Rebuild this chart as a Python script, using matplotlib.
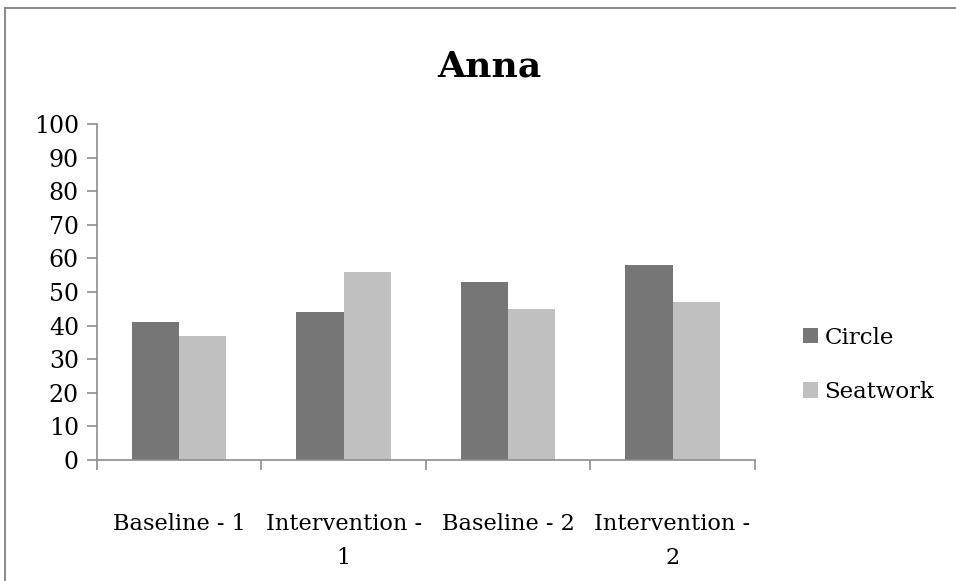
import numpy as np
import matplotlib.pyplot as plt
from matplotlib.patches import Rectangle

# Data
categories = ['Baseline - 1', 'Intervention -\n1', 'Baseline - 2', 'Intervention -\n2']
circle = [41, 44, 53, 58]
seatwork = [37, 56, 45, 47]

plt.rcParams['font.family'] = ['DejaVu Serif']

fig = plt.figure(figsize=(9.56, 5.81), dpi=100)
ax = fig.add_axes([0.1015, 0.2083, 0.688, 0.5783])

x = np.arange(len(categories))
w = 0.287
ax.bar(x - w / 2, circle, w, color='#767676', label='Circle')
ax.bar(x + w / 2, seatwork, w, color='#c0c0c0', label='Seatwork')

ax.set_xlim(-0.5, 3.5)
ax.set_ylim(0, 100)
ax.set_yticks(range(0, 101, 10))
ax.set_xticks(np.arange(-0.5, 4, 1))
ax.set_xticklabels([])
ax.set_xticks(x, minor=True)
ax.set_xticklabels(categories, minor=True, fontsize=16.2)
ax.tick_params(axis='x', which='minor', length=0, pad=38.5)
ax.tick_params(axis='x', which='major', length=7, color='#8c8c8c', width=1.2)
ax.tick_params(axis='y', length=7, color='#8c8c8c', width=1.2, labelsize=17, pad=6)
for t in ax.get_xticklabels(minor=True):
    t.set_linespacing(1.7)

for s in ['top', 'right']:
    ax.spines[s].set_visible(False)
for s in ['left', 'bottom']:
    ax.spines[s].set_color('#8c8c8c')
    ax.spines[s].set_linewidth(1.2)

fig.text(0.512, 0.886, 'Anna', ha='center', va='center', fontsize=26, fontweight='bold')

fig.legend(loc='center left', bbox_to_anchor=(0.818, 0.372), frameon=False,
           fontsize=16.5, handlelength=0.65, handleheight=0.65, handletextpad=0.3,
           labelspacing=1.4)

# chart border
fig.patches.append(Rectangle((5 / 956, -0.5), 2, 1.5 - 7.5 / 581, transform=fig.transFigure,
                             fill=False, edgecolor='#8c8c8c', linewidth=1.5))

fig.savefig('out.png', dpi=100)
